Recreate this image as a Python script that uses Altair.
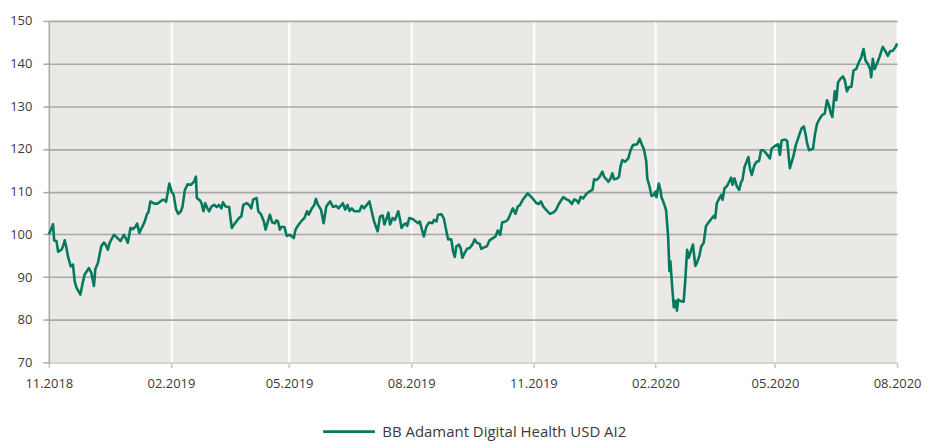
import altair as alt
import pandas as pd

# ---- data ----
series_name = "BB Adamant Digital Health USD AI2"
start_date = "2018-11-01"
# days since 01.11.2018
days = [
    0, 1.5, 3.2, 4.0, 5.8, 7.0, 9.5, 10.7, 12.0, 13.3, 14.5, 16.5, 18.2, 19.5, 20.8, 23.8, 25.3, 27.0,
    30.2, 32.0, 34.0, 35.0, 37.0, 39.5, 41.5, 42.8, 44.5, 45.8, 49.0, 50.8, 54.0, 56.5, 58.3, 59.5,
    61.5, 63.2, 65.0, 66.5, 68.2, 69.5, 72.0, 74.0, 75.0, 76.5, 79.5, 82.0, 85.7, 87.5, 88.3,
    90.8, 92.5, 94.0, 95.8, 97.5, 99.5, 100.7, 102.5, 104.5, 107.0, 109.5, 110.8, 111.5, 114.0,
    115.0, 116.5, 117.8, 119.5, 120.8, 122.5, 124.5, 126.5, 128.2, 130.0, 131.2, 133.2, 135.8,
    137.8, 139.5, 143.2, 145.0, 146.5, 149.0, 150.8, 152.5, 154.0, 156.5, 157.8, 160.0, 162.0,
    163.3, 165.0, 166.5, 168.2, 170.2, 171.5, 172.7, 174.0, 175.0, 177.5, 179.2, 181.5, 183.2,
    184.5, 185.8, 188.2, 190.8, 192.5, 194.5, 195.8, 198.2, 200.0, 201.2, 202.8, 205.0, 207.0,
    209.0, 210.8, 212.0, 214.0, 216.5, 218.2, 220.0, 221.5, 223.2, 225.0, 226.5, 228.2, 230.0,
    232.0, 234.0, 235.7, 237.5, 239.5, 241.5, 243.2, 245.0, 247.7, 249.5, 251.5, 252.8, 254.5,
    255.8, 257.0, 259.0, 260.8, 263.2, 264.5, 265.7, 267.5, 269.0, 270.0, 271.5, 274.0, 276.5,
    278.2, 279.5, 280.7, 282.5, 284.5, 286.5, 289.0, 290.2, 292.0, 293.2, 295.7, 297.5, 299.5,
    300.8, 302.0, 303.2, 304.5, 305.8, 307.0, 309.0, 310.2, 311.5, 313.2, 315.0, 317.0, 319.0,
    320.8, 322.5, 324.5, 325.7, 328.2, 330.0, 332.0, 334.5, 336.5, 338.2, 340.0, 341.5, 344.0,
    345.8, 347.5, 349.5, 351.5, 353.2, 355.0, 357.0, 359.0, 360.8, 362.0, 364.5, 367.0, 369.0,
    370.7, 372.5, 375.0, 377.5, 380.0, 382.0, 384.5, 387.5, 390.0, 392.0, 394.0, 395.8, 397.7,
    399.0, 400.7, 402.5, 405.0, 407.0, 409.5, 410.8, 412.5, 414.5, 417.0, 418.2, 420.0, 421.5,
    423.2, 424.5, 425.8, 428.2, 429.5, 430.7, 432.0, 434.0, 436.5, 438.2, 440.0, 443.2, 445.0,
    446.5, 448.3, 450.0, 450.8, 452.5, 454.0, 455.8, 457.0, 457.7, 459.5, 460.7, 461.5, 463.3,
    465.0, 466.5, 467.5, 468.2, 469.5, 470.8, 472.0, 473.2, 474.0, 475.7, 478.2, 479.5, 480.8,
    482.0, 484.0, 485.2, 487.0, 488.2, 490.0, 491.5, 493.3, 495.0, 497.0, 499.0, 500.8, 502.0,
    503.2, 505.0, 506.5, 507.5, 509.0, 510.8, 512.5, 514.0, 515.0, 516.5, 518.2, 520.0, 521.5,
    522.5, 524.0, 527.0, 528.2, 529.5, 531.5, 533.2, 535.0, 536.5, 538.3, 540.0, 541.5, 543.2,
    544.5, 547.0, 549.5, 550.7, 552.0, 554.5, 556.2, 558.2, 560.8, 562.7, 565.2, 567.0, 568.7,
    570.2, 571.2, 572.7, 574.5, 575.7, 577.0, 578.7, 580.7, 582.7, 584.5, 586.2, 587.7, 589.0,
    590.2, 592.0, 593.2, 594.5, 596.2, 598.2, 599.5, 601.2, 602.7, 604.5, 606.2, 608.2, 610.2,
    612.0, 613.7, 615.2, 617.0, 618.7, 619.5, 620.7, 622.0, 623.7, 625.7, 628.2, 630.2, 632.0,
    633.7, 635.7, 637.7, 639.0,
]
values = [
    100.0, 101.0, 102.4, 98.6, 98.4, 95.9, 96.4, 97.2, 98.6, 96.8, 94.7, 92.5, 92.9, 89.0, 87.5, 85.9, 88.3, 90.6,
    92.1, 91.0, 87.9, 91.8, 93.3, 97.2, 98.1, 97.6, 96.4, 98.0, 99.9, 99.4, 98.4, 99.9, 98.9, 98.0,
    101.5, 101.2, 101.7, 102.5, 100.3, 101.2, 102.8, 104.8, 105.1, 107.7, 107.2, 107.2, 108.1, 108.0, 107.6,
    111.9, 110.0, 109.3, 105.9, 104.8, 105.4, 106.5, 110.4, 111.7, 111.6, 112.4, 113.5, 108.5, 107.9,
    107.3, 105.4, 107.3, 106.1, 105.4, 106.5, 106.9, 106.4, 106.9, 106.1, 107.5, 106.5, 106.4,
    101.5, 102.3, 103.8, 104.2, 106.9, 107.3, 106.9, 106.1, 108.2, 108.5, 105.4, 104.6, 103.0,
    101.1, 103.0, 104.6, 102.8, 102.6, 103.3, 103.0, 101.1, 101.7, 101.7, 99.6, 99.9, 99.5,
    99.1, 101.1, 102.3, 103.3, 103.8, 105.4, 104.6, 106.1, 106.9, 108.3, 106.9, 105.8, 102.6,
    106.5, 107.3, 107.7, 106.4, 106.7, 106.1, 106.7, 107.3, 105.8, 106.9, 105.5, 106.1, 105.4,
    105.4, 105.4, 106.7, 106.1, 106.9, 107.7, 105.4, 103.0, 100.7, 104.2, 104.4, 102.3, 103.8,
    105.1, 102.3, 103.8, 103.4, 105.4, 103.6, 101.5, 102.3, 102.6, 102.0, 103.8, 103.6, 103.0,
    102.6, 103.0, 101.5, 99.5, 101.9, 102.8, 102.6, 103.4, 103.0, 104.6, 104.7, 103.8, 100.7,
    98.8, 98.9, 98.8, 96.0, 94.7, 97.2, 97.6, 96.8, 94.5, 95.6, 96.6, 96.8, 97.6,
    98.8, 98.0, 97.8, 96.6, 97.0, 97.2, 98.6, 99.1, 99.5, 100.9, 99.9, 102.8, 103.0,
    103.4, 104.6, 106.1, 104.8, 106.5, 106.9, 108.1, 108.9, 109.6, 109.2, 108.4, 107.4, 107.1,
    107.7, 106.5, 105.6, 104.8, 105.1, 105.7, 107.3, 108.7, 108.2, 107.9, 107.1, 108.2, 107.9,
    107.3, 108.8, 108.4, 109.5, 110.0, 110.4, 112.9, 112.7, 113.3, 114.7, 113.5, 112.9, 112.3,
    113.1, 114.3, 112.9, 113.1, 113.5, 116.0, 117.4, 117.0, 117.8, 119.7, 120.9, 121.1, 122.4,
    121.2, 119.9, 117.2, 113.1, 111.2, 109.0, 109.2, 110.0, 108.7, 111.9, 110.4, 108.7, 107.3,
    105.6, 99.5, 91.4, 93.7, 87.9, 82.9, 84.4, 82.1, 84.7, 84.4, 84.2, 89.5, 96.4,
    94.5, 96.4, 97.6, 92.6, 93.3, 94.9, 97.2, 98.0, 101.9, 102.8, 103.6, 104.3, 103.8,
    107.3, 108.4, 109.2, 108.1, 110.8, 111.3, 112.3, 113.3, 111.6, 113.1, 111.3, 110.4, 112.3,
    112.7, 115.7, 118.1, 115.4, 113.9, 116.2, 117.0, 117.2, 119.7, 119.7, 119.1, 118.5, 117.8,
    120.1, 120.7, 121.1, 118.6, 122.0, 122.2, 121.9, 115.5, 118.2, 120.9, 123.2, 124.8, 125.3,
    123.2, 121.3, 119.7, 119.9, 120.1, 123.2, 125.9, 127.1, 128.0, 128.3, 131.4, 130.2, 128.4,
    127.5, 133.5, 131.4, 135.6, 136.4, 137.0, 136.2, 133.5, 134.5, 134.5, 138.4, 138.7, 140.3,
    141.5, 143.4, 140.7, 139.9, 138.7, 136.8, 141.1, 138.7, 139.9, 141.5, 143.9, 142.9, 141.8,
    142.9, 143.0, 143.8, 144.7,
]
x_ticks = ["2018-11-01", "2019-02-01", "2019-05-01", "2019-08-01",
           "2019-11-01", "2020-02-01", "2020-05-01", "2020-08-01"]
y_ticks = [70, 80, 90, 100, 110, 120, 130, 140, 150]

LINE_COLOR = "#037a5f"

dates = pd.Timestamp(start_date) + pd.to_timedelta(days, unit="D")
df = pd.DataFrame({"date": dates, "value": values, "series": series_name})


def dt(s):
    t = pd.Timestamp(s)
    return alt.DateTime(year=t.year, month=t.month, date=t.day)


x_axis = alt.Axis(
    values=[dt(s) for s in x_ticks],
    format="%m.%Y",
    title=None,
    labelFont="Open Sans",
    labelFontSize=13,
    labelColor="#3a3a3a",
    labelPadding=10,
    labelFlush=False,
    labelOverlap=False,
    domainColor="#d4d4d4",
    domainWidth=2,
    tickColor="#c4c4c4",
    tickSize=5,
    tickWidth=1.5,
    grid=True,
    gridColor={"condition": {"test": "year(datum.value) == 2018", "value": "transparent"},
               "value": "#ffffff"},
    gridWidth=2,
)

y_axis = alt.Axis(
    values=y_ticks,
    title=None,
    labelFont="Open Sans",
    labelFontSize=13,
    labelColor="#3a3a3a",
    labelPadding=11,
    domainColor="#a9a9a9",
    domainWidth=1.5,
    tickColor="#a9a9a9",
    tickSize=6,
    tickWidth=1.5,
    grid=True,
    gridColor={"condition": {"test": "datum.value == 70", "value": "transparent"},
               "value": "#a9a9a9"},
    gridWidth=1.6,
)

chart = (
    alt.Chart(df)
    .mark_line(strokeWidth=2.6, strokeJoin="round")
    .encode(
        x=alt.X("date:T",
                scale=alt.Scale(domain=[dt(x_ticks[0]), dt(x_ticks[-1])], nice=False),
                axis=x_axis),
        y=alt.Y("value:Q",
                scale=alt.Scale(domain=[70, 150], nice=False, zero=False),
                axis=y_axis),
        color=alt.Color(
            "series:N",
            scale=alt.Scale(domain=[series_name], range=[LINE_COLOR]),
            legend=alt.Legend(
                title=None,
                orient="none",
                legendX=274,
                legendY=385,
                symbolType="stroke",
                symbolSize=2700,
                symbolStrokeWidth=2.6,
                labelFont="Open Sans",
                labelFontSize=15,
                labelColor="#3a3a3a",
                labelOffset=6,
                labelLimit=0,
            ),
        ),
    )
    .properties(
        width=852,
        height=343,
        autosize="none",
        padding={"left": 41, "top": 12, "right": 25, "bottom": 80},
    )
    .configure_view(fill="#ebe9e5", strokeWidth=0)
)

chart.save("out.html", embed_options={"renderer": "svg", "actions": False})
